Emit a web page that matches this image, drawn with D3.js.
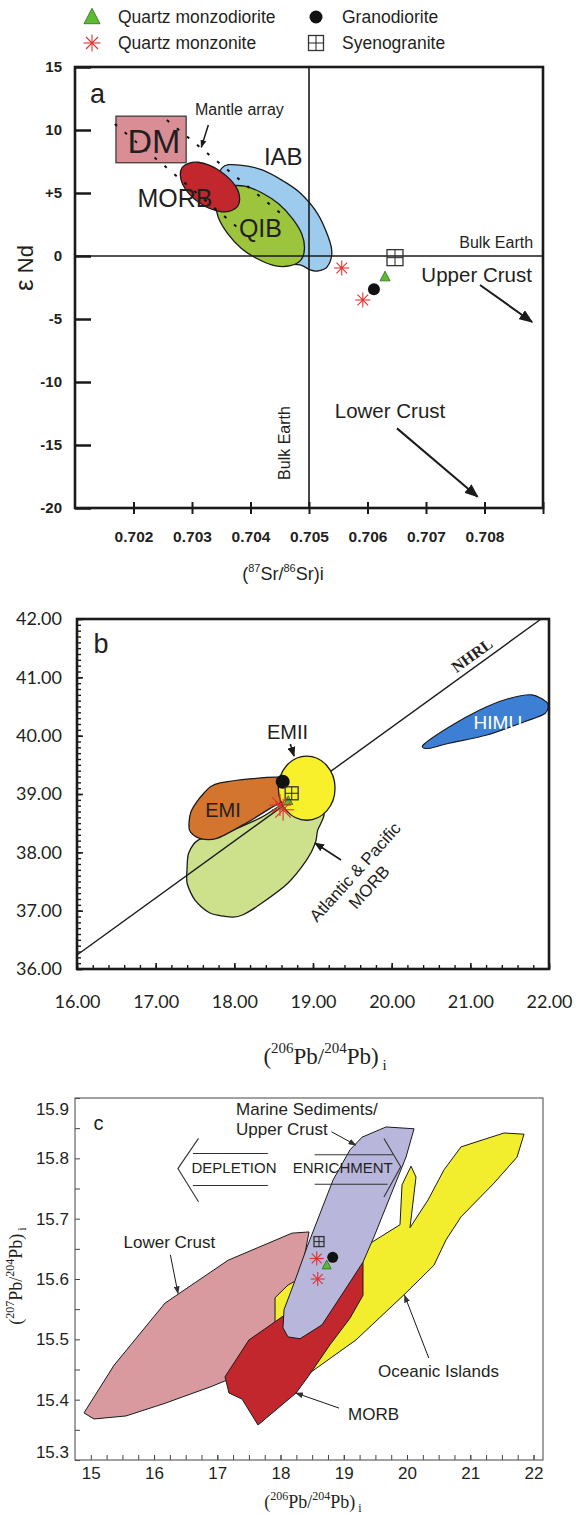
<!DOCTYPE html>
<html><head><meta charset="utf-8">
<script src="https://cdn.jsdelivr.net/npm/d3@7"></script>
<style>
body{margin:0;background:#fff}
svg{display:block}
</style>
</head><body>
<svg id="chart" width="587" height="1515"></svg>
<script>
// ======================= DATA =======================
// Legend
const legendNames = ["Quartz monzodiorite", "Quartz monzonite", "Granodiorite", "Syenogranite"];
const legendSymbols = ["triangle", "asterisk", "circle", "square"];

// ---- Panel a : eNd vs (87Sr/86Sr)i ----
const aXDomain = [0.701, 0.709];
const aYDomain = [-20, 15];
const aXTickMarks = [0.702, 0.703, 0.704, 0.705, 0.706, 0.707, 0.708, 0.709];
const aXTickLabels = ["0.702", "0.703", "0.704", "0.705", "0.706", "0.707", "0.708", ""];
const aYTicks = [15, 10, 5, 0, -5, -10, -15, -20];
const aYTickLabels = ["15", "10", "+5", "0", "-5", "-10", "-15", "-20"];
const aBulkEarth = [0.705, 0];
const aDM = [[0.7017, 7.4], [0.7029, 11.1]];
const aIAB = [[0.70351,6.98],[0.70382,7.22],[0.70420,6.83],[0.70456,5.95],[0.70485,5.00],[0.70514,3.41],[0.70533,1.51],[0.70539,0.24],[0.70531,-0.87],[0.70515,-1.19],[0.70502,-1.11],[0.70485,-0.71],[0.70450,-0.48],[0.70399,0.87],[0.70356,2.86],[0.70339,4.84]];
const aQIB = [[0.70486,-0.33],[0.70443,-0.78],[0.70384,0.62],[0.70345,3.05],[0.70347,5.09],[0.70390,5.54],[0.70448,4.14],[0.70488,1.71]];
const aMORB = [[0.70378,3.93],[0.70351,3.51],[0.70312,4.24],[0.70284,5.70],[0.70283,7.02],[0.70310,7.44],[0.70349,6.71],[0.70378,5.25]];
const aMantleArray = [[[0.70257,10.79],[0.70459,3.10]], [[0.70168,10.48],[0.70377,2.30]]];
const aQmd = [[0.70630,-1.64]];
const aQmz = [[0.70556,-0.95],[0.70592,-3.49]];
const aGd  = [[0.70611,-2.64]];
const aSg  = [[0.70647,-0.13]];
const aLabels = [
  {t:"a", x:0.701256, y:12.14, size:27},
  {t:"Mantle array", x:0.70305, y:11.19, size:16},
  {t:"IAB", x:0.70456, y:7.22, size:24, anchor:"middle"},
  {t:"MORB", x:0.70271, y:3.91, size:25, anchor:"middle"},
  {t:"QIB", x:0.70417, y:1.53, size:25, anchor:"middle"},
  {t:"DM", x:0.70235, y:8.15, size:34, anchor:"middle"},
  {t:"Bulk Earth", x:0.70883, y:0.61, size:16, anchor:"end"},
  {t:"Upper Crust", x:0.70881, y:-2.04, size:20.5, anchor:"end"},
  {t:"Lower Crust", x:0.70544, y:-12.88, size:20.5},
  {t:"Bulk Earth", x:0.70468, y:-14.84, size:16, anchor:"middle", rotate:-90}
];
const aArrows = [
  {from:[0.703279,10.40], to:[0.703159,8.63], head:"hSmall", w:1.5},
  {from:[0.707923,-2.30], to:[0.708812,-5.24], head:"hBig", w:2},
  {from:[0.706504,-13.68], to:[0.707881,-19.10], head:"hBig", w:2}
];

// ---- Panel b : 208Pb/204Pb vs 206Pb/204Pb ----
const bXDomain = [16, 22];
const bYDomain = [36, 42];
const bXTicks = [16, 17, 18, 19, 20, 21, 22];
const bYTicks = [36, 37, 38, 39, 40, 41, 42];
const bNHRL = [[16, 36.24], [21.9, 42]];
const bMORB = [[19.14,38.67],[19.06,38.38],[19.03,38.16],[18.92,37.87],[18.68,37.47],[18.35,37.13],[18.11,36.93],[17.97,36.89],[17.69,36.96],[17.50,37.18],[17.40,37.47],[17.40,37.75],[17.42,37.99],[17.54,38.21],[17.82,38.30],[18.33,38.59],[18.71,38.90],[18.96,38.90]];
const bEMI = [[18.62,39.28],[17.82,39.19],[17.61,39.01],[17.45,38.70],[17.43,38.38],[17.56,38.24],[17.78,38.24],[18.11,38.47],[18.45,38.75],[18.64,38.92]];
const bEMII = {cx:18.92, cy:39.10, rx:0.36, ry:0.55};
const bHIMU = [[20.40,39.84],[20.73,40.15],[21.12,40.44],[21.45,40.62],[21.78,40.70],[21.98,40.56],[21.95,40.38],[21.69,40.24],[21.21,40.01],[20.73,39.87],[20.47,39.78]];
const bQmd = [[18.686,38.885]];
const bQmz = [[18.58,38.81],[18.62,38.73]];
const bGd  = [[18.615,39.211]];
const bSg  = [[18.729,39.012]];
const bLabels = [
  {t:"b", x:16.21, y:41.42, size:27},
  {t:"EMII", x:18.676, y:39.94, size:20, anchor:"middle"},
  {t:"EMI", x:17.856, y:38.60, size:20, anchor:"middle"},
  {t:"HIMU", x:21.35, y:40.11, size:19, anchor:"middle", fill:"#ffffff"},
  {t:"NHRL", x:21.02, y:41.38, size:16, anchor:"middle", rotate:-36, serif:true, bold:true, mid:true},
  {t:"Atlantic & Pacific", x:19.534, y:37.663, size:17, anchor:"middle", rotate:-48, mid:true},
  {t:"MORB", x:19.712, y:37.406, size:17, anchor:"middle", rotate:-48, mid:true}
];
const bArrows = [
  {from:[18.711,39.857], to:[18.759,39.651], head:"hMid", w:1.6},
  {from:[19.356,37.869], to:[19.025,38.16], head:"hMid", w:1.6}
];

// ---- Panel c : 207Pb/204Pb vs 206Pb/204Pb ----
const cXDomain = [14.75, 22.15];
const cYDomain = [15.3, 15.9];
const cXTicks = [15, 16, 17, 18, 19, 20, 21, 22];
const cYTicks = [15.3, 15.4, 15.5, 15.6, 15.7, 15.8, 15.9];
const cLowerCrust = [[14.892,15.378],[15.050,15.368],[15.556,15.373],[16.173,15.394],[16.885,15.421],[17.359,15.441],[17.992,15.515],[18.308,15.598],[18.450,15.678],[18.181,15.676],[17.169,15.631],[16.173,15.560],[15.367,15.457]];
const cOceanic = [[21.850,15.840],[21.534,15.842],[20.854,15.819],[20.585,15.781],[20.332,15.731],[20.047,15.685],[20.142,15.769],[20.063,15.787],[19.921,15.756],[19.889,15.690],[19.446,15.661],[18.782,15.628],[18.118,15.590],[17.913,15.569],[17.913,15.529],[18.308,15.466],[18.419,15.441],[19.193,15.499],[19.984,15.577],[20.427,15.623],[20.617,15.665],[20.854,15.703],[21.376,15.759],[21.739,15.802]];
const cMORB = [[17.122,15.438],[17.185,15.411],[17.391,15.401],[17.644,15.358],[18.245,15.411],[18.434,15.438],[18.782,15.491],[19.098,15.535],[19.304,15.573],[19.304,15.628],[19.178,15.648],[18.624,15.582],[17.913,15.529],[17.501,15.499]];
const cMarine = [[19.668,15.852],[20.111,15.849],[19.984,15.802],[19.731,15.736],[19.478,15.670],[19.304,15.628],[19.019,15.582],[18.656,15.524],[18.308,15.501],[18.118,15.504],[18.039,15.519],[18.055,15.549],[18.245,15.602],[18.419,15.653],[18.830,15.764],[19.098,15.814],[19.288,15.835]];
const cQmd = [[18.730,15.623]];
const cQmz = [[18.572,15.634],[18.588,15.600]];
const cGd  = [[18.825,15.636]];
const cSg  = [[18.608,15.662]];
const cChevrons = [[[16.703,15.833],[16.377,15.783],[16.703,15.728]], [[19.635,15.833],[19.900,15.786],[19.635,15.736]]];
const cBars = [[[16.614,15.808],[17.799,15.808]], [[16.614,15.755],[17.799,15.755]], [[18.539,15.806],[19.778,15.806]], [[18.539,15.757],[19.693,15.757]]];
const cLabels = [
  {t:"c", x:15.044, y:15.847, size:20},
  {t:"Marine Sediments/", x:17.296, y:15.872, size:17},
  {t:"Upper Crust", x:17.296, y:15.839, size:17},
  {t:"DEPLETION", x:17.264, y:15.776, size:15, anchor:"middle"},
  {t:"ENRICHMENT", x:18.983, y:15.776, size:15, anchor:"middle"},
  {t:"Lower Crust", x:15.518, y:15.651, size:17},
  {t:"Oceanic Islands", x:19.541, y:15.437, size:17},
  {t:"MORB", x:19.067, y:15.366, size:17}
];
const cArrows = [
  {from:[18.806,15.844], to:[19.190,15.822], head:"hThin", w:1},
  {from:[16.258,15.640], to:[16.379,15.576], head:"hThin", w:1},
  {from:[20.344,15.469], to:[19.960,15.573], head:"hThin", w:1},
  {from:[18.925,15.386], to:[18.243,15.411], head:"hThin", w:1}
];

// ======================= DRAWING =======================
const SANS = "'Liberation Sans', Arial, Helvetica, sans-serif";
const SERIF = "'Liberation Serif', 'Times New Roman', serif";
const INK = "#231f20";
const svg = d3.select("#chart");
const defs = svg.append("defs");

function makeHead(id, len, wid, color) {
  defs.append("marker").attr("id", id).attr("viewBox", "0 0 10 10")
    .attr("refX", 9).attr("refY", 5).attr("markerUnits", "userSpaceOnUse")
    .attr("markerWidth", len).attr("markerHeight", wid).attr("orient", "auto")
    .attr("preserveAspectRatio", "none")
    .append("path").attr("d", "M0,0 L10,5 L0,10 Z").attr("fill", color);
}
makeHead("hBig", 14, 11, "#1a1a1a");
makeHead("hSmall", 8, 6, "#1a1a1a");
makeHead("hMid", 10, 8, "#1a1a1a");
makeHead("hThin", 8, 6, "#333");

function symbol(g, type, cx, cy, s) {
  if (type === "triangle") {
    g.append("path").attr("d", `M${cx},${cy - s*0.55} L${cx - s/2},${cy + s*0.42} L${cx + s/2},${cy + s*0.42} Z`)
      .attr("fill", "#5dbb33").attr("stroke", "#2d6b17").attr("stroke-width", 0.8);
  } else if (type === "circle") {
    g.append("circle").attr("cx", cx).attr("cy", cy).attr("r", s/2).attr("fill", "#111");
  } else if (type === "asterisk") {
    const r = s/2;
    [0, 45, 90, 135].forEach(a => {
      const dx = r*Math.cos(a*Math.PI/180), dy = r*Math.sin(a*Math.PI/180);
      g.append("line").attr("x1", cx - dx).attr("y1", cy - dy).attr("x2", cx + dx).attr("y2", cy + dy)
        .attr("stroke", "#e0322f").attr("stroke-width", 1.1);
    });
    g.append("circle").attr("cx", cx).attr("cy", cy).attr("r", 1.2).attr("fill", "#e0322f");
  } else if (type === "square") {
    const h = s/2;
    g.append("rect").attr("x", cx - h).attr("y", cy - h).attr("width", s).attr("height", s)
      .attr("fill", "none").attr("stroke", "#333").attr("stroke-width", 1.3);
    g.append("line").attr("x1", cx - h).attr("x2", cx + h).attr("y1", cy).attr("y2", cy).attr("stroke", "#333").attr("stroke-width", 1.1);
    g.append("line").attr("x1", cx).attr("x2", cx).attr("y1", cy - h).attr("y2", cy + h).attr("stroke", "#333").attr("stroke-width", 1.1);
  }
}

function frame(g, x, y, sw, color) {
  g.append("rect").attr("x", x.range()[0]).attr("y", y.range()[1])
    .attr("width", x.range()[1] - x.range()[0]).attr("height", y.range()[0] - y.range()[1])
    .attr("fill", "none").attr("stroke", color).attr("stroke-width", sw);
}

function labels(g, list, x, y, family) {
  list.forEach(d => {
    const t = g.append("text")
      .attr("transform", `translate(${x(d.x)},${y(d.y)})` + (d.rotate ? ` rotate(${d.rotate})` : ""))
      .attr("text-anchor", d.anchor || "start")
      .attr("font-family", d.serif ? SERIF : family)
      .attr("font-weight", d.bold ? "bold" : "normal")
      .attr("font-size", d.size).attr("fill", d.fill || INK).text(d.t);
    if (d.mid) t.attr("dy", "0.35em");
  });
}

function arrows(g, list, x, y) {
  list.forEach(d => {
    g.append("line").attr("x1", x(d.from[0])).attr("y1", y(d.from[1]))
      .attr("x2", x(d.to[0])).attr("y2", y(d.to[1]))
      .attr("stroke", "#1a1a1a").attr("stroke-width", d.w).attr("marker-end", `url(#${d.head})`);
  });
}

function points(g, x, y, sets, sizes) {
  const types = ["triangle", "asterisk", "circle", "square"];
  // draw order: triangle, circle, square, asterisk (asterisks on top)
  [["triangle",0],["circle",2],["square",3],["asterisk",1]].forEach(([tp, i]) => {
    sets[i].forEach(p => symbol(g, tp, x(p[0]), y(p[1]), sizes[tp]));
  });
}

function styleAxis(g, family, size, weight, sw, color) {
  g.attr("font-family", null).attr("font-size", null);
  g.select(".domain").remove();
  g.selectAll(".tick line").attr("stroke", color).attr("stroke-width", sw);
  g.selectAll(".tick text").attr("font-family", family).attr("font-size", size)
    .attr("font-weight", weight).attr("fill", INK);
}

// ---------- Legend ----------
const legendPos = [[92, 17], [92, 43], [316, 17], [316, 43]];
const legendSizes = {triangle: 16, asterisk: 17, circle: 13, square: 15};
const lg = svg.append("g");
legendNames.forEach((n, i) => {
  const [lx, ly] = legendPos[i];
  symbol(lg, legendSymbols[i], lx, ly, legendSizes[legendSymbols[i]]);
  lg.append("text").attr("x", lx + 26).attr("y", ly + 6).attr("font-family", SANS)
    .attr("font-size", 17.5).attr("fill", INK).text(n);
});

// ---------- Panel a ----------
{
  const x = d3.scaleLinear().domain(aXDomain).range([75, 543]);
  const y = d3.scaleLinear().domain(aYDomain).range([508, 67]);
  const g = svg.append("g");
  const smooth = d3.line().x(d => x(d[0])).y(d => y(d[1])).curve(d3.curveCardinalClosed.tension(0));

  g.append("path").attr("d", smooth(aIAB)).attr("fill", "#9dcbee").attr("stroke", "#1a1a1a").attr("stroke-width", 1.3);
  g.append("path").attr("d", smooth(aQIB)).attr("fill", "#9cc43c").attr("stroke", "#1a1a1a").attr("stroke-width", 1.3);
  g.append("rect").attr("x", x(aDM[0][0])).attr("y", y(aDM[1][1]))
    .attr("width", x(aDM[1][0]) - x(aDM[0][0])).attr("height", y(aDM[0][1]) - y(aDM[1][1]))
    .attr("fill", "#d98e95").attr("stroke", "#333").attr("stroke-width", 1.2);
  g.append("path").attr("d", smooth(aMORB)).attr("fill", "#c1272d").attr("stroke", "#1a1a1a").attr("stroke-width", 1.3);

  // Bulk Earth lines
  g.append("line").attr("x1", x(aXDomain[0])).attr("x2", x(aXDomain[1])).attr("y1", y(aBulkEarth[1])).attr("y2", y(aBulkEarth[1]))
    .attr("stroke", "#1a1a1a").attr("stroke-width", 1.6);
  g.append("line").attr("x1", x(aBulkEarth[0])).attr("x2", x(aBulkEarth[0])).attr("y1", y(aYDomain[0])).attr("y2", y(aYDomain[1]))
    .attr("stroke", "#1a1a1a").attr("stroke-width", 1.6);

  // Mantle array dashed lines
  aMantleArray.forEach(seg => {
    g.append("line").attr("x1", x(seg[0][0])).attr("y1", y(seg[0][1])).attr("x2", x(seg[1][0])).attr("y2", y(seg[1][1]))
      .attr("stroke", "#111").attr("stroke-width", 2).attr("stroke-dasharray", "3,10");
  });

  // axes
  const ya = g.append("g").attr("transform", `translate(${x.range()[0]},0)`)
    .call(d3.axisLeft(y).tickValues(aYTicks).tickSize(-16).tickPadding(13)
      .tickFormat(d => aYTickLabels[aYTicks.indexOf(d)]));
  styleAxis(ya, SANS, 15, "bold", 2.5, "#1a1a1a");
  const xa = g.append("g").attr("transform", `translate(0,${y.range()[0]})`)
    .call(d3.axisBottom(x).tickValues(aXTickMarks).tickSize(6).tickPadding(17)
      .tickFormat(d => aXTickLabels[aXTickMarks.indexOf(d)]));
  styleAxis(xa, SANS, 15.5, "bold", 2, "#1a1a1a");
  const xa2 = g.append("g").attr("transform", `translate(0,${y.range()[0]})`)
    .call(d3.axisTop(x).tickValues(aXTickMarks).tickSize(6).tickFormat(""));
  styleAxis(xa2, SANS, 10, "normal", 2, "#1a1a1a");

  frame(g, x, y, 2.6, "#1a1a1a");

  labels(g, aLabels, x, y, SANS);
  arrows(g, aArrows, x, y);
  points(g, x, y, [aQmd, aQmz, aGd, aSg], {triangle: 10, asterisk: 15, circle: 12, square: 16});

  // axis titles
  const ty = g.append("text").attr("transform", "translate(33,268) rotate(-90)")
    .attr("text-anchor", "middle").attr("font-family", SANS).attr("fill", INK);
  ty.append("tspan").attr("font-size", 26).text("\u03B5");
  ty.append("tspan").attr("font-size", 22).text(" Nd");
  const tx = g.append("text").attr("x", 283).attr("y", 580).attr("text-anchor", "middle")
    .attr("font-family", SANS).attr("font-size", 18).attr("fill", INK);
  tx.append("tspan").text("(");
  tx.append("tspan").attr("font-size", 11).attr("dy", -8).text("87");
  tx.append("tspan").attr("dy", 8).text("Sr/");
  tx.append("tspan").attr("font-size", 11).attr("dy", -8).text("86");
  tx.append("tspan").attr("dy", 8).text("Sr)i");
}

// ---------- Panel b ----------
{
  const x = d3.scaleLinear().domain(bXDomain).range([77, 549]);
  const y = d3.scaleLinear().domain(bYDomain).range([969, 619]);
  const g = svg.append("g");
  const smooth = d3.line().x(d => x(d[0])).y(d => y(d[1])).curve(d3.curveCardinalClosed.tension(0.2));

  g.append("path").attr("d", smooth(bMORB)).attr("fill", "#cde08c").attr("stroke", "#1a1a1a").attr("stroke-width", 1.3);
  g.append("line").attr("x1", x(bNHRL[0][0])).attr("y1", y(bNHRL[0][1])).attr("x2", x(bNHRL[1][0])).attr("y2", y(bNHRL[1][1]))
    .attr("stroke", "#1a1a1a").attr("stroke-width", 1.4);
  g.append("path").attr("d", smooth(bEMI)).attr("fill", "#d4752f").attr("stroke", "#1a1a1a").attr("stroke-width", 1.3);
  g.append("ellipse").attr("cx", x(bEMII.cx)).attr("cy", y(bEMII.cy))
    .attr("rx", x(bEMII.cx + bEMII.rx) - x(bEMII.cx)).attr("ry", y(bEMII.cy) - y(bEMII.cy + bEMII.ry))
    .attr("fill", "#f7f02a").attr("stroke", "#1a1a1a").attr("stroke-width", 1.3);
  g.append("path").attr("d", smooth(bHIMU)).attr("fill", "#3d7fd4").attr("stroke", "#1a1a1a").attr("stroke-width", 1.1);

  const ya = g.append("g").attr("transform", `translate(${x.range()[0]},0)`)
    .call(d3.axisLeft(y).tickValues(bYTicks).tickSize(-6).tickPadding(15).tickFormat(d3.format(".2f")));
  styleAxis(ya, "Lato, 'Open Sans', sans-serif", 18, "normal", 1.6, "#1a1a1a");
  const yam = g.append("g").attr("transform", `translate(${x.range()[0]},0)`)
    .call(d3.axisLeft(y).tickValues(d3.range(36, 42.0001, 0.1)).tickSize(-4).tickFormat(""));
  styleAxis(yam, SANS, 10, "normal", 1.4, "#1a1a1a");
  const xa = g.append("g").attr("transform", `translate(0,${y.range()[0]})`)
    .call(d3.axisBottom(x).tickValues(bXTicks).tickSize(-6).tickPadding(26).tickFormat(d3.format(".2f")));
  styleAxis(xa, "Lato, 'Open Sans', sans-serif", 18, "normal", 1.6, "#1a1a1a");
  const xam = g.append("g").attr("transform", `translate(0,${y.range()[0]})`)
    .call(d3.axisBottom(x).tickValues(d3.range(16, 22.0001, 0.2)).tickSize(-4).tickFormat(""));
  styleAxis(xam, SANS, 10, "normal", 1.4, "#1a1a1a");

  frame(g, x, y, 2.6, "#1a1a1a");

  arrows(g, bArrows, x, y);
  points(g, x, y, [bQmd, bQmz, bGd, bSg], {triangle: 9, asterisk: 22, circle: 14, square: 13});
  labels(g, bLabels, x, y, SANS);

  const tx = g.append("text").attr("x", 325).attr("y", 1064).attr("text-anchor", "middle")
    .attr("font-family", SERIF).attr("font-size", 23).attr("fill", INK);
  tx.append("tspan").text("(");
  tx.append("tspan").attr("font-size", 15).attr("dy", -11).text("206");
  tx.append("tspan").attr("dy", 11).text("Pb/");
  tx.append("tspan").attr("font-size", 15).attr("dy", -11).text("204");
  tx.append("tspan").attr("dy", 11).text("Pb)");
  tx.append("tspan").attr("font-size", 15).attr("dy", 6).text(" i");
}

// ---------- Panel c ----------
{
  const x = d3.scaleLinear().domain(cXDomain).range([75, 543]);
  const y = d3.scaleLinear().domain(cYDomain).range([1460, 1098]);
  const g = svg.append("g");
  const poly = d3.line().x(d => x(d[0])).y(d => y(d[1])).curve(d3.curveLinearClosed);
  const open = d3.line().x(d => x(d[0])).y(d => y(d[1]));

  g.append("path").attr("d", poly(cLowerCrust)).attr("fill", "#d99a9f").attr("stroke", "#1a1a1a").attr("stroke-width", 1);
  g.append("path").attr("d", poly(cOceanic)).attr("fill", "#f2ee2e").attr("stroke", "#1a1a1a").attr("stroke-width", 1);
  g.append("path").attr("d", poly(cMORB)).attr("fill", "#c1272d").attr("stroke", "#1a1a1a").attr("stroke-width", 1);
  g.append("path").attr("d", poly(cMarine)).attr("fill", "#b9b6dc").attr("stroke", "#1a1a1a").attr("stroke-width", 1);

  cChevrons.forEach(c => g.append("path").attr("d", open(c)).attr("fill", "none").attr("stroke", "#333").attr("stroke-width", 1.1));
  cBars.forEach(c => g.append("path").attr("d", open(c)).attr("fill", "none").attr("stroke", "#333").attr("stroke-width", 1.1));

  const ya = g.append("g").attr("transform", `translate(${x.range()[0]},0)`)
    .call(d3.axisLeft(y).tickValues(cYTicks).tickSize(-5).tickPadding(6).tickFormat(d3.format(".1f")));
  styleAxis(ya, SANS, 17, "normal", 1, "#444");
  ya.selectAll(".tick text").attr("dy", d => d === 15.9 ? "0.95em" : d === 15.3 ? "-0.15em" : "0.32em");
  const yam = g.append("g").attr("transform", `translate(${x.range()[0]},0)`)
    .call(d3.axisLeft(y).tickValues(d3.range(15.35, 15.9, 0.1)).tickSize(-5).tickFormat(""));
  styleAxis(yam, SANS, 10, "normal", 1, "#444");
  const xa = g.append("g").attr("transform", `translate(0,${y.range()[0]})`)
    .call(d3.axisBottom(x).tickValues(cXTicks).tickSize(-5).tickPadding(7).tickFormat(d3.format("d")));
  styleAxis(xa, SANS, 17, "normal", 1, "#444");
  const xam = g.append("g").attr("transform", `translate(0,${y.range()[0]})`)
    .call(d3.axisBottom(x).tickValues(d3.range(15.25, 22.1, 0.25)).tickSize(-5).tickFormat(""));
  styleAxis(xam, SANS, 10, "normal", 1, "#444");

  frame(g, x, y, 1.1, "#555");

  labels(g, cLabels, x, y, SANS);
  arrows(g, cArrows, x, y);
  points(g, x, y, [cQmd, cQmz, cGd, cSg], {triangle: 9, asterisk: 14, circle: 11, square: 10});

  const tx = g.append("text").attr("x", 313).attr("y", 1508).attr("text-anchor", "middle")
    .attr("font-family", SERIF).attr("font-size", 18).attr("fill", INK);
  tx.append("tspan").text("(");
  tx.append("tspan").attr("font-size", 12).attr("dy", -8).text("206");
  tx.append("tspan").attr("dy", 8).text("Pb/");
  tx.append("tspan").attr("font-size", 12).attr("dy", -8).text("204");
  tx.append("tspan").attr("dy", 8).text("Pb)");
  tx.append("tspan").attr("font-size", 12).attr("dy", 4).text(" i");

  const ty = g.append("text").attr("transform", "translate(22,1276) rotate(-90)").attr("text-anchor", "middle")
    .attr("font-family", SERIF).attr("font-size", 18).attr("fill", INK);
  ty.append("tspan").text("(");
  ty.append("tspan").attr("font-size", 12).attr("dy", -8).text("207");
  ty.append("tspan").attr("dy", 8).text("Pb/");
  ty.append("tspan").attr("font-size", 12).attr("dy", -8).text("204");
  ty.append("tspan").attr("dy", 8).text("Pb)");
  ty.append("tspan").attr("font-size", 12).attr("dy", 4).text(" i");
}
</script>
</body></html>
